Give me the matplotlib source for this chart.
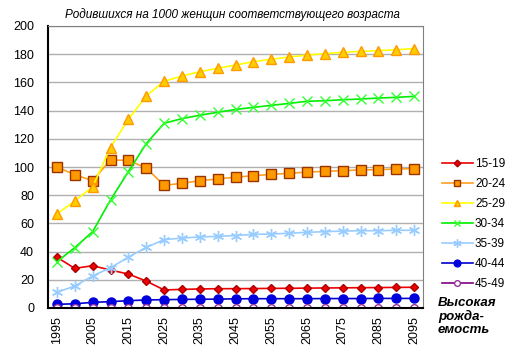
import numpy as np
import matplotlib.pyplot as plt
from matplotlib.lines import Line2D

plt.rcParams['font.family'] = ['Liberation Sans', 'DejaVu Sans']

# данные #
years = list(range(1995, 2100, 5))
tick_years = list(range(1995, 2100, 10))
groups = ["15-19", "20-24", "25-29", "30-34", "35-39", "40-44", "45-49"]

v15_19 = [36, 28.1, 30, 26.9, 24.1, 19.1, 12.8, 13.2, 13.5, 13.7, 13.7,
          13.8, 13.9, 14.0, 14.1, 14.2, 14.3, 14.4, 14.5, 14.6, 14.7]
v20_24 = [100, 94.5, 90.3, 105, 104.7, 99.3, 87, 88.4, 90.3, 91.5, 92.8,
          93.8, 94.8, 95.5, 96.4, 96.9, 97.4, 97.9, 98.1, 98.6, 98.8]
v25_29 = [66.7, 75.9, 86, 113.8, 133.8, 150.4, 160.8, 164.5, 167.6, 170, 172.3,
          174.7, 176.4, 178, 179.4, 180.4, 181.3, 182, 182.5, 183.2, 183.9]
v30_34 = [32.8, 42.8, 54.1, 76.6, 96.7, 116.5, 131, 134.3, 136.7, 138.8, 140.8,
          142.3, 143.7, 145.1, 146.6, 147, 147.7, 148.2, 148.9, 149.4, 150.1]
v35_39 = [11.1, 15.6, 22.7, 28.6, 36, 43, 48.5, 49.6, 50.4, 50.8, 51.4,
          52.2, 52.5, 53, 53.7, 54.1, 54.6, 54.8, 54.8, 55.1, 55.1]
v40_44 = [2.6, 3, 4, 4.5, 5.2, 5.7, 5.9, 6.1, 6.2, 6.3, 6.5,
          6.6, 6.6, 6.6, 6.6, 6.7, 6.7, 6.7, 6.8, 6.8, 6.8]
v45_49 = [0.2] * 21

series = [v15_19, v20_24, v25_29, v30_34, v35_39, v40_44, v45_49]

# стиль каждой линии: цвет линии, маркер, заливка, контур, размер #
styles = [
    dict(color='#ee0000', marker='D', mfc='#ee0000', mec='#aa0000', ms=4.5),
    dict(color='#ffa020', marker='s', mfc='#ff9900', mec='#993300', ms=6.5),
    dict(color='#ffff00', marker='^', mfc='#ffcc00', mec='#ff9900', ms=6.5),
    dict(color='#00ee00', marker='x', mfc='#33ff33', mec='#33ff33', ms=6.5),
    dict(color='#99ccff', marker=(6, 2, 0), mfc='#99ccff', mec='#99ccff', ms=8),
    dict(color='#0000cc', marker='o', mfc='#0000dd', mec='#0000dd', ms=6.5),
    dict(color='#800080', marker='o', mfc='white', mec='#993399', ms=5.5),
]

fig = plt.figure(figsize=(5.14, 3.63), dpi=100)
ax = fig.add_axes([48/514, (363-308)/363, (423-48)/514, (308-26)/363])

for vals, st in zip(series, styles):
    ax.plot(years, vals, color=st['color'], lw=1.2, marker=st['marker'],
            mfc=st['mfc'], mec=st['mec'], ms=st['ms'], mew=1.0)

ax.set_xlim(1992.5, 2097.5)
ax.set_ylim(0, 200)
ax.set_yticks(range(0, 201, 20))
ax.set_xticks(tick_years)
ax.set_xticklabels([str(y) for y in tick_years], rotation=90, fontsize=9)
ax.tick_params(axis='y', labelsize=9, length=0, pad=10)
ax.tick_params(axis='x', length=0, pad=6)
ax.grid(axis='y', color='#b0b0b0', lw=1)
ax.set_axisbelow(True)
for s in ['top', 'right']:
    ax.spines[s].set_color('#808080')
for s in ['left', 'bottom']:
    ax.spines[s].set_color('black')
    ax.spines[s].set_linewidth(1.5)

fig.text(232/514, 1 - 15/363, "Родившихся на 1000 женщин соответствующего возраста",
         ha='center', va='center', style='italic', fontsize=8.5)

# легенда #
handles = [Line2D([], [], color=st['color'], lw=1.2, marker=st['marker'],
                  mfc=st['mfc'], mec=st['mec'], ms=st['ms'] * 0.75, mew=1.0)
           for st in styles]
fig.legend(handles, groups, loc='upper left', bbox_to_anchor=(436/514, 1 - 152/363),
           frameon=False, fontsize=8.5, handlelength=2.6, handletextpad=0.2,
           labelspacing=0.68, borderpad=0)

fig.text(438/514, 1 - 297/363, "Высокая\nрожда-\nемость", ha='left', va='top',
         style='italic', weight='bold', fontsize=9.5, linespacing=1.1)

fig.savefig("out.png", dpi=100)
